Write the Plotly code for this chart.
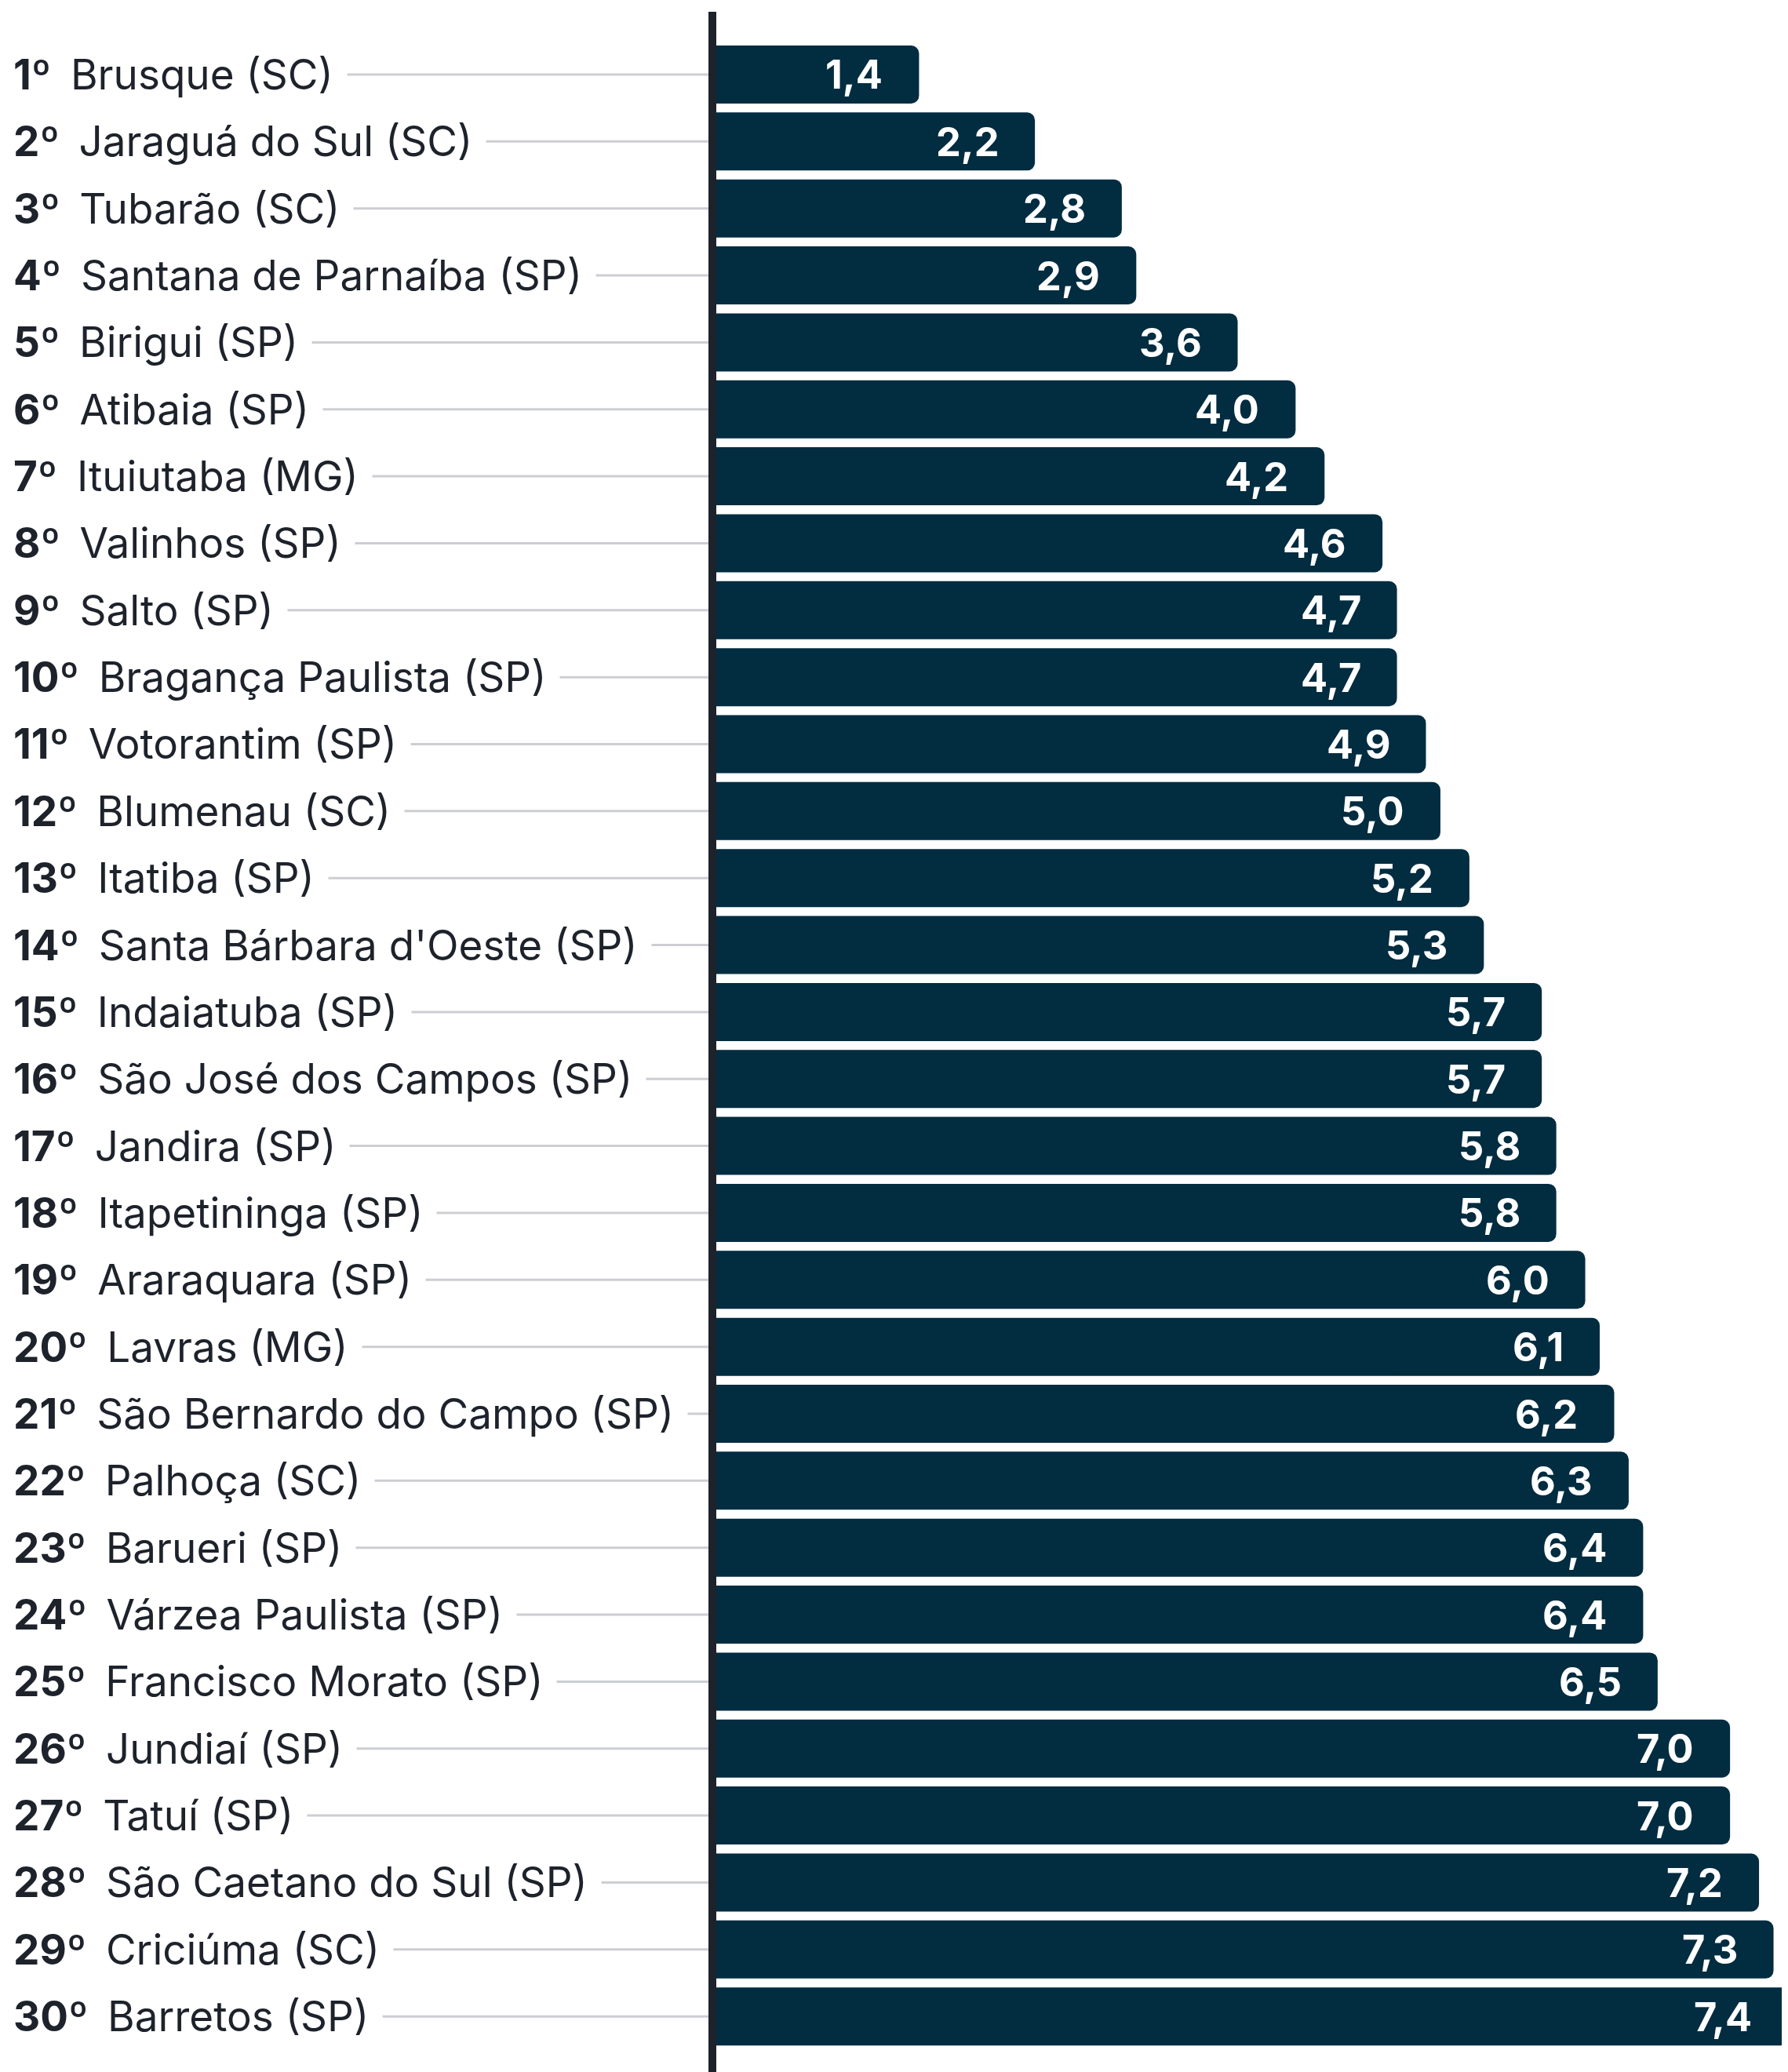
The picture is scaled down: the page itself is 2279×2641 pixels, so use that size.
import plotly.graph_objects as go

ranks = list(range(1, 31))
cities = [
    "Brusque (SC)", "Jaraguá do Sul (SC)", "Tubarão (SC)", "Santana de Parnaíba (SP)",
    "Birigui (SP)", "Atibaia (SP)", "Ituiutaba (MG)", "Valinhos (SP)", "Salto (SP)",
    "Bragança Paulista (SP)", "Votorantim (SP)", "Blumenau (SC)", "Itatiba (SP)",
    "Santa Bárbara d'Oeste (SP)", "Indaiatuba (SP)", "São José dos Campos (SP)",
    "Jandira (SP)", "Itapetininga (SP)", "Araraquara (SP)", "Lavras (MG)",
    "São Bernardo do Campo (SP)", "Palhoça (SC)", "Barueri (SP)", "Várzea Paulista (SP)",
    "Francisco Morato (SP)", "Jundiaí (SP)", "Tatuí (SP)", "São Caetano do Sul (SP)",
    "Criciúma (SC)", "Barretos (SP)",
]
values = [1.4, 2.2, 2.8, 2.9, 3.6, 4.0, 4.2, 4.6, 4.7, 4.7, 4.9, 5.0, 5.2, 5.3, 5.7,
          5.7, 5.8, 5.8, 6.0, 6.1, 6.2, 6.3, 6.4, 6.4, 6.5, 7.0, 7.0, 7.2, 7.3, 7.4]

BAR = "#022c40"
INK = "#1d222b"
FONT = "Inter"

fig = go.Figure(go.Bar(
    x=values, y=cities, orientation="h",
    marker=dict(color=BAR, line=dict(width=0)),
    hoverinfo="skip",
))

# light connector lines from label to the axis (white label boxes hide the start)
for c in cities:
    fig.add_shape(type="line", xref="paper", yref="y", x0=-0.65, x1=0, y0=c, y1=c,
                  line=dict(color="#cdced2", width=3), layer="below")

for r, c, v in zip(ranks, cities, values):
    fig.add_annotation(
        xref="paper", yref="y", x=-0.658, y=c, xanchor="left", yanchor="middle",
        text=f"<b>{r}º</b>\u00a0\u2009{c}\u00a0", showarrow=False,
        font=dict(family=FONT, size=53, color=INK), bgcolor="white", borderpad=2,
    )
    fig.add_annotation(
        xref="x", yref="y", x=v, y=c, xanchor="right", yanchor="middle", xshift=-44,
        text=f"<b>{v:.1f}</b>".replace(".", ","), showarrow=False,
        font=dict(family=FONT, size=50.5, color="white"),
    )

# page body adds an 8px offset, so the figure is 8px smaller with margins shifted
fig.update_layout(
    width=2271, height=2633,
    margin=dict(l=905, r=0, t=7, b=0, pad=0),
    paper_bgcolor="white", plot_bgcolor="white",
    bargap=0.133, barcornerradius=10, showlegend=False,
    font=dict(family=FONT),
)
fig.update_xaxes(range=[0, 7.4], visible=False)
fig.update_yaxes(type="category", range=[29.83, -0.937], showticklabels=False,
                 showgrid=False, zeroline=False, showline=True, linewidth=10,
                 linecolor=INK, ticks="")

fig.write_html("out.html")
